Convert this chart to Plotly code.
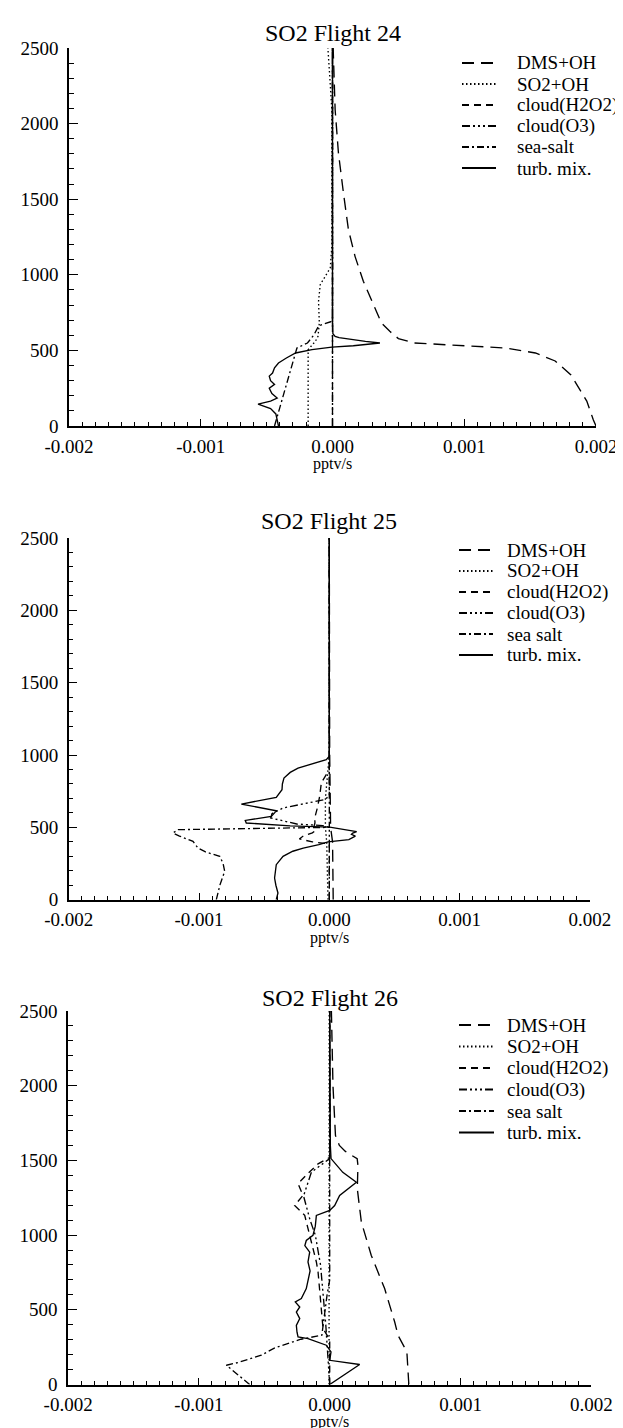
import plotly.graph_objects as go

W, H = 623, 1428

# ---------------- text ----------------
titles = ["SO2 Flight 24", "SO2 Flight 25", "SO2 Flight 26"]
names_24 = ["DMS+OH", "SO2+OH", "cloud(H2O2)", "cloud(O3)", "sea-salt", "turb. mix."]
names_25 = ["DMS+OH", "SO2+OH", "cloud(H2O2)", "cloud(O3)", "sea salt", "turb. mix."]
names_26 = ["DMS+OH", "SO2+OH", "cloud(H2O2)", "cloud(O3)", "sea salt", "turb. mix."]
x_tick_vals = [-0.002, -0.001, 0.0, 0.001, 0.002]
x_tick_text = ["-0.002", "-0.001", "0.000", "0.001", "0.002"]
y_tick_vals = [0, 500, 1000, 1500, 2000, 2500]
x_label = "pptv/s"

# ---------------- Flight 24 (altitude m, rate pptv/s) ----------------
f24_dms_h = [0, 40, 165, 338, 430, 483, 516, 534, 549, 578, 626, 681, 825, 957, 1122, 1298, 1541, 1806, 2092, 2500]
f24_dms_v = [2.00e-3, 1.98e-3, 1.93e-3, 1.81e-3, 1.69e-3, 1.54e-3, 1.31e-3, 0.875e-3, 0.62e-3, 0.50e-3,
             0.435e-3, 0.372e-3, 0.297e-3, 0.234e-3, 0.171e-3, 0.121e-3, 0.083e-3, 0.045e-3, 0.020e-3, 0.005e-3]
f24_so2_h = [0, 505, 560, 593, 681, 825, 935, 1000, 1045, 1200, 1600, 2092, 2300, 2500]
f24_so2_v = [-0.185e-3, -0.185e-3, -0.13e-3, -0.11e-3, -0.10e-3, -0.106e-3, -0.093e-3, -0.05e-3, -0.017e-3,
             -0.004e-3, -0.002e-3, -0.005e-3, -0.02e-3, -0.035e-3]
f24_h2o2_h = [0, 2500]
f24_h2o2_v = [0.0, 0.0]
f24_o3_h = [0, 2500]
f24_o3_v = [0.0, 0.0]
f24_salt_h = [0, 240, 476, 516, 549, 604, 663, 692, 700, 2500]
f24_salt_v = [-0.44e-3, -0.36e-3, -0.28e-3, -0.27e-3, -0.19e-3, -0.14e-3, -0.105e-3, -0.005e-3, 0.0, 0.0]
f24_turb_h = [0, 40, 80, 115, 145, 165, 185, 215, 250, 275, 300, 330, 350, 385, 417, 450, 483, 505, 522,
              531, 549, 560, 571, 585, 593, 610, 700, 2500]
f24_turb_v = [-0.41e-3, -0.42e-3, -0.43e-3, -0.47e-3, -0.565e-3, -0.47e-3, -0.42e-3, -0.46e-3, -0.48e-3,
              -0.44e-3, -0.47e-3, -0.48e-3, -0.455e-3, -0.44e-3, -0.41e-3, -0.35e-3, -0.28e-3, -0.156e-3,
              -0.005e-3, 0.158e-3, 0.36e-3, 0.25e-3, 0.158e-3, 0.05e-3, 0.02e-3, 0.003e-3, 0.0, 0.0]

# ---------------- Flight 25 ----------------
f25_dms_h = [0, 400, 500, 1000, 2500]
f25_dms_v = [0.03e-3, 0.025e-3, 0.01e-3, 0.003e-3, 0.0]
f25_so2_h = [0, 400, 500, 700, 900, 1000, 2500]
f25_so2_v = [-0.01e-3, -0.02e-3, -0.03e-3, -0.03e-3, -0.01e-3, 0.0, 0.0]
f25_h2o2_h = [0, 385, 400, 420, 440, 462, 475, 500, 530, 565, 640, 715, 808, 864, 900, 2500]
f25_h2o2_v = [0.0, 0.0, -0.13e-3, -0.23e-3, -0.20e-3, -0.13e-3, -0.11e-3, -0.12e-3, -0.11e-3, -0.112e-3,
              -0.09e-3, -0.074e-3, -0.061e-3, -0.023e-3, 0.0, 0.0]
f25_o3_h = [0, 500, 512, 523, 540, 565, 595, 634, 691, 715, 2500]
f25_o3_v = [0.0, 0.0, -0.05e-3, -0.25e-3, -0.33e-3, -0.45e-3, -0.44e-3, -0.355e-3, -0.04e-3, 0.0, 0.0]
f25_salt_h = [0, 100, 196, 250, 300, 330, 357, 403, 440, 461, 484, 491, 496, 500, 2500]
f25_salt_v = [-0.867e-3, -0.84e-3, -0.803e-3, -0.815e-3, -0.841e-3, -0.95e-3, -1.008e-3, -1.046e-3,
              -1.15e-3, -1.20e-3, -1.16e-3, -0.80e-3, -0.30e-3, 0.0, 0.0]
f25_turb_h = [0, 46, 100, 150, 242, 300, 335, 357, 380, 400, 415, 426, 440, 452, 461, 470, 485, 502, 510, 520,
              530, 548, 562, 576, 600, 615, 661, 707, 760, 800, 841, 880, 910, 950, 968, 991, 2500]
f25_turb_v = [-0.407e-3, -0.394e-3, -0.41e-3, -0.42e-3, -0.407e-3, -0.355e-3, -0.28e-3, -0.2e-3, -0.08e-3,
              -0.01e-3, 0.15e-3, 0.17e-3, 0.2e-3, 0.17e-3, 0.18e-3, 0.21e-3, 0.12e-3, 0.003e-3, -0.3e-3,
              -0.5e-3, -0.637e-3, -0.645e-3, -0.55e-3, -0.445e-3, -0.42e-3, -0.407e-3, -0.675e-3, -0.407e-3,
              -0.363e-3, -0.36e-3, -0.348e-3, -0.30e-3, -0.24e-3, -0.08e-3, -0.023e-3, 0.0, 0.0]

# ---------------- Flight 26 ----------------
f26_dms_h = [0, 100, 218, 330, 418, 642, 864, 1087, 1310, 1466, 1511, 1560, 1600, 1667, 2000, 2500]
f26_dms_v = [0.605e-3, 0.60e-3, 0.59e-3, 0.522e-3, 0.497e-3, 0.42e-3, 0.318e-3, 0.242e-3, 0.211e-3,
             0.216e-3, 0.21e-3, 0.12e-3, 0.074e-3, 0.044e-3, 0.025e-3, 0.013e-3]
f26_so2_h = [0, 500, 1000, 1500, 2500]
f26_so2_v = [-0.005e-3, -0.005e-3, -0.004e-3, -0.003e-3, -0.004e-3]
f26_h2o2_h = [0, 300, 374, 508, 753, 820, 1053, 1132, 1198, 1266, 1344, 1410, 1477, 1506, 1520, 2500]
f26_h2o2_v = [0.0, 0.0, -0.051e-3, -0.064e-3, -0.089e-3, -0.102e-3, -0.166e-3, -0.191e-3, -0.268e-3,
              -0.204e-3, -0.242e-3, -0.17e-3, -0.089e-3, -0.026e-3, 0.0, 0.0]
f26_o3_h = [0, 300, 400, 600, 800, 1000, 1100, 1262, 1421, 1512, 2500]
f26_o3_v = [0.0, -0.02e-3, -0.03e-3, -0.05e-3, -0.07e-3, -0.11e-3, -0.15e-3, -0.2e-3, -0.14e-3, 0.0, 0.0]
f26_salt_h = [0, 129, 147, 196, 245, 290, 303, 330, 400, 500, 600, 700, 2500]
f26_salt_v = [-0.612e-3, -0.79e-3, -0.701e-3, -0.523e-3, -0.42e-3, -0.26e-3, -0.22e-3, -0.06e-3, -0.05e-3,
              -0.04e-3, -0.02e-3, 0.0, 0.0]
f26_turb_h = [0, 134, 162, 218, 263, 307, 318, 350, 396, 441, 485, 519, 552, 575, 642, 708, 760, 820, 886,
              930, 964, 998, 1060, 1132, 1165, 1198, 1265, 1354, 1420, 1512, 1600, 2500]
f26_turb_v = [0.0, 0.229e-3, 0.0, 0.01e-3, -0.026e-3, -0.166e-3, -0.242e-3, -0.25e-3, -0.255e-3, -0.229e-3,
              -0.255e-3, -0.229e-3, -0.263e-3, -0.217e-3, -0.179e-3, -0.166e-3, -0.15e-3, -0.166e-3,
              -0.153e-3, -0.19e-3, -0.179e-3, -0.128e-3, -0.11e-3, -0.102e-3, 0.0, 0.038e-3, 0.076e-3,
              0.204e-3, 0.1e-3, 0.01e-3, 0.005e-3, 0.0]

# ---------------- styling ----------------
FONT = "Liberation Serif"
dashes = ["12px,7px", "1.5px,2.5px", "7px,5px", "8px,3px,2px,3px,2px,3px,2px,3px", "7px,3px,2px,3px", "solid"]

panels = [
    dict(title=titles[0], names=names_24,
         series=[(f24_dms_h, f24_dms_v), (f24_so2_h, f24_so2_v), (f24_h2o2_h, f24_h2o2_v),
                 (f24_o3_h, f24_o3_v), (f24_salt_h, f24_salt_v), (f24_turb_h, f24_turb_v)],
         xpx=(61, 588), ypx=(40, 418), title_y=25, leg_text_x=507, leg_line=(454, 488), leg_y0=55, leg_dy=21),
    dict(title=titles[1], names=names_25,
         series=[(f25_dms_h, f25_dms_v), (f25_so2_h, f25_so2_v), (f25_h2o2_h, f25_h2o2_v),
                 (f25_o3_h, f25_o3_v), (f25_salt_h, f25_salt_v), (f25_turb_h, f25_turb_v)],
         xpx=(60.7, 581.9), ypx=(530, 891.7), title_y=513, leg_text_x=497, leg_line=(451, 485), leg_y0=542, leg_dy=21),
    dict(title=titles[2], names=names_26,
         series=[(f26_dms_h, f26_dms_v), (f26_so2_h, f26_so2_v), (f26_h2o2_h, f26_h2o2_v),
                 (f26_o3_h, f26_o3_v), (f26_salt_h, f26_salt_v), (f26_turb_h, f26_turb_v)],
         xpx=(60.1, 583.3), ypx=(1003, 1376.5), title_y=990, leg_text_x=497, leg_line=(451, 486), leg_y0=1017, leg_dy=21.5),
]


def px_x(p):
    return p / W


def px_y(p):
    return 1 - p / H


fig = go.Figure()
annotations = []
shapes = []

for i, pnl in enumerate(panels):
    sfx = "" if i == 0 else str(i + 1)
    for k, ((hh, vv), name) in enumerate(zip(pnl["series"], pnl["names"])):
        fig.add_trace(go.Scatter(
            x=vv, y=hh, mode="lines", name=name, showlegend=False,
            line=dict(color="black", width=1.35, dash=dashes[k]),
            xaxis="x" + sfx, yaxis="y" + sfx, hoverinfo="skip"))

    x0, x1 = pnl["xpx"]
    y0, y1 = pnl["ypx"]
    xd = [px_x(x0), px_x(x1)]
    yd = [px_y(y1), px_y(y0)]
    fig.layout["xaxis" + sfx] = dict(
        domain=xd, range=[-0.002, 0.002], anchor="y" + sfx, automargin=False,
        tickmode="array", tickvals=x_tick_vals, ticktext=x_tick_text,
        ticks="inside", ticklen=7, tickwidth=1.3, tickcolor="black",
        minor=dict(dtick=0.0001, tick0=0, ticks="inside", ticklen=4, tickwidth=1, tickcolor="black"),
        showline=True, linecolor="black", linewidth=1.5, mirror=False,
        showgrid=False, zeroline=False, ticklabelstandoff=2,
        tickfont=dict(family=FONT, size=19, color="black"), fixedrange=True)
    fig.layout["yaxis" + sfx] = dict(
        domain=yd, range=[0, 2500], anchor="x" + sfx, automargin=False,
        tickmode="array", tickvals=y_tick_vals, ticktext=[str(v) for v in y_tick_vals],
        ticks="inside", ticklen=9, tickwidth=1.3, tickcolor="black",
        minor=dict(dtick=100, tick0=0, ticks="inside", ticklen=5, tickwidth=1, tickcolor="black"),
        showline=True, linecolor="black", linewidth=1.5, mirror=False,
        showgrid=False, zeroline=False, ticklabelstandoff=5,
        tickfont=dict(family=FONT, size=19, color="black"), fixedrange=True)

    xc = (x0 + x1) / 2
    annotations.append(dict(text=pnl["title"], x=px_x(xc), y=px_y(pnl["title_y"]), xref="paper", yref="paper",
                            xanchor="center", yanchor="middle", showarrow=False,
                            font=dict(family=FONT, size=24, color="black")))
    annotations.append(dict(text=x_label, x=px_x(xc), y=px_y(y1 + 37.8), xref="paper", yref="paper",
                            xanchor="center", yanchor="middle", showarrow=False,
                            font=dict(family=FONT, size=16, color="black")))
    # legend
    lx0, lx1 = pnl["leg_line"]
    for k, name in enumerate(pnl["names"]):
        ly = pnl["leg_y0"] + k * pnl["leg_dy"]
        shapes.append(dict(type="line", xref="paper", yref="paper",
                           x0=px_x(lx0), x1=px_x(lx1), y0=px_y(ly), y1=px_y(ly),
                           line=dict(color="black", width=1.8, dash=dashes[k])))
        annotations.append(dict(text=name, x=px_x(pnl["leg_text_x"]), y=px_y(ly), xref="paper", yref="paper",
                                xanchor="left", yanchor="middle", showarrow=False,
                                font=dict(family=FONT, size=19, color="black")))

fig.update_layout(width=W, height=H, margin=dict(l=0, r=0, t=0, b=0, pad=0, autoexpand=False),
                  font=dict(family=FONT, size=19, color="black"),
                  paper_bgcolor="white", plot_bgcolor="white",
                  showlegend=False, annotations=annotations, shapes=shapes)

fig.write_html("out.html")
